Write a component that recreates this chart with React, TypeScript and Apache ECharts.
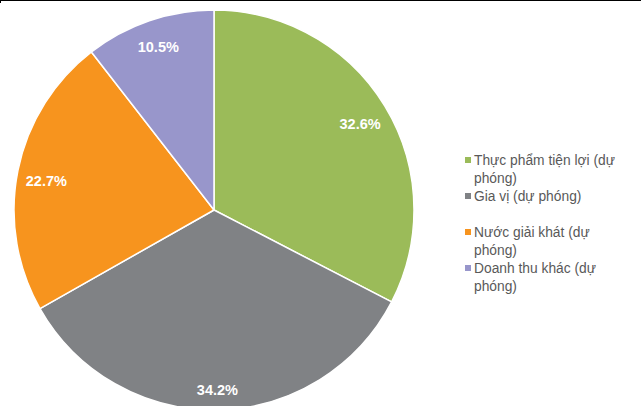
import React, { useEffect, useRef } from "react";
import * as echarts from "echarts";

const categories = [
  "Thực phẩm tiện lợi (dự phóng)",
  "Gia vị (dự phóng)",
  "Nước giải khát (dự phóng)",
  "Doanh thu khác (dự phóng)",
];
const values = [32.6, 34.2, 22.7, 10.5];
const legendLines = [
  ["Thực phẩm tiện lợi (dự", "phóng)"],
  ["Gia vị (dự phóng)", " "],
  ["Nước giải khát (dự", "phóng)"],
  ["Doanh thu khác (dự", "phóng)"],
];
const colors = ["#9BBB59", "#808285", "#F7941E", "#9896CB"];
const labelRadius = [171, 180, 171, 172];
const labelShift = [
  [0, 3],
  [0, 0],
  [0, 5],
  [0, 0],
];

const CX = 214;
const CY = 210;
const R = 200;
const FONT = "Liberation Sans, Arial, sans-serif";

export default function App() {
  const ref = useRef<HTMLDivElement>(null);
  useEffect(() => {
    if (!ref.current) return;
    const chart = echarts.init(ref.current, undefined, { renderer: "svg" });
    const rich: any = {
      t: { fontSize: 13.8, color: "#595959", lineHeight: 18, fontFamily: FONT, padding: [0, 0, 0, 3] },
      i: { fontSize: 13.8, color: "#595959", lineHeight: 18, fontFamily: FONT, padding: [0, 0, 0, 9] },
    };
    colors.forEach((c, k) => {
      rich["s" + k] = { width: 6, height: 6, backgroundColor: c, lineHeight: 18 };
    });
    chart.setOption({
      animation: false,
      backgroundColor: "#ffffff",
      graphic: [
        { type: "rect", shape: { x: 0, y: 0, width: 641, height: 1 }, style: { fill: "#000" } },
        { type: "rect", shape: { x: 0, y: 0, width: 1, height: 3 }, style: { fill: "#000" } },
      ],
      legend: {
        orient: "vertical",
        left: 459,
        top: 151,
        padding: 0,
        itemGap: 0,
        itemWidth: 0,
        itemHeight: 0,
        data: categories,
        textStyle: { lineHeight: 18, rich },
        formatter: (name: string) => {
          const k = categories.indexOf(name);
          const lines = legendLines[k];
          return `{s${k}|}{t|${lines[0]}}` + (lines[1] ? `\n{i|${lines[1]}}` : "");
        },
      },
      series: [
        {
          type: "pie",
          center: [CX, CY],
          radius: [0, R],
          startAngle: 90,
          clockwise: true,
          silent: true,
          itemStyle: { borderColor: "#ffffff", borderWidth: 1.5 },
          label: {
            show: true,
            position: "inside",
            formatter: (p: any) => p.value.toFixed(1) + "%",
            color: "#ffffff",
            fontWeight: "bold",
            fontSize: 14.5,
            fontFamily: FONT,
          },
          labelLine: { show: false },
          labelLayout: (p: any) => {
            const r = p.labelRect;
            const lx = r.x + r.width / 2 - CX;
            const ly = r.y + r.height / 2 - CY;
            const d = Math.sqrt(lx * lx + ly * ly) || 1;
            const k = labelRadius[p.dataIndex] / d;
            const s = labelShift[p.dataIndex];
            return { x: CX + lx * k + s[0], y: CY + ly * k + s[1] };
          },
          data: categories.map((name, k) => ({
            name,
            value: values[k],
            itemStyle: { color: colors[k] },
          })),
        },
      ],
    });
    return () => chart.dispose();
  }, []);
  return (
    <div
      ref={ref}
      style={{ position: "fixed", left: 0, top: 0, width: 641, height: 406 }}
    />
  );
}
